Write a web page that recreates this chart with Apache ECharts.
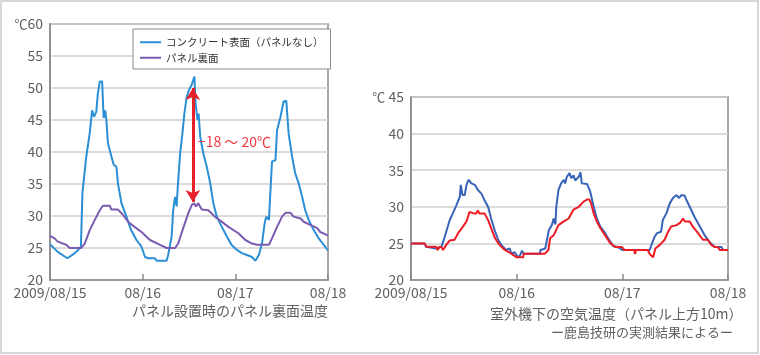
<!DOCTYPE html>
<html><head><meta charset="utf-8">
<script src="https://cdn.jsdelivr.net/npm/echarts@6/dist/echarts.min.js"></script>
<style>html,body{margin:0;padding:0;background:#fff}#c{width:760px;height:355px}</style>
</head><body><div id="c"></div>
<script>
const tickLabels = ['2009/08/15', '08/16', '08/17', '08/18'];
const legendNames = ['コンクリート表面（パネルなし）', 'パネル裏面'];
const annotationText = '−18 ～ 20℃';

// Left chart: concrete surface (no panel) – [hour, °C]
const concreteHours = [0,2,4.5,6,7.3,8,8.4,9.4,10.3,10.9,11.4,12,12.4,12.9,13.5,13.9,14.3,14.6,15,15.9,16.5,17.2,17.6,18.5,19.8,21,22.4,23.7,24.6,25.5,27.2,27.6,30.2,30.6,31.5,31.9,32.4,32.8,33.1,33.7,34.3,34.8,35.4,36,36.7,37.1,37.4,37.7,38.2,38.5,38.9,39.7,40.6,41.5,42.3,43.2,44.5,45.8,47,48.4,49.7,51,52.3,53.2,54.1,54.9,55.6,56,56.7,57.1,57.5,58.4,58.8,59.7,60.5,61.2,61.8,62.7,63.5,64.4,65.3,66.1,67,68.3,69.6,70.9,71.8,72];
const concreteTemps = [25.6,24.4,23.4,24.0,24.7,25.2,33.6,39.3,43,46.5,45.5,46.3,49.2,51,51,45.3,46.5,45,41.4,39.3,38,37.7,35.1,32,29.9,27.8,26.25,25.2,23.6,23.4,23.4,23,23,23.9,26.8,30.9,33,31.5,34.6,39.8,42.9,46,48.6,49.7,50.5,51.25,51.8,47.6,45,46,42.4,39.8,37.7,35.1,32,29.9,28.3,26.8,25.5,24.7,24.2,23.9,23.6,23,23.9,25.7,28.9,29.9,29.4,34,38.5,38.75,43.4,45.5,47.9,48,42.9,39.3,36.7,35.1,33,30.9,29.4,27.8,26.5,25.5,24.8,24.6];

// Left chart: panel back surface
const panelHours = [0,1.2,2,4.2,5.1,8.1,9,10.3,11.6,12.9,13.7,15.5,15.9,17.6,18.9,20.2,21.9,23.7,25.9,28.5,30.2,32.4,33.2,34.5,35.8,36.7,37.3,37.8,38.4,39.3,41,42.7,44.5,46.2,48.8,50.6,52.3,53.6,56.7,57.5,58.8,60.1,61,62.3,63.1,64.9,65.7,67.4,69.2,70,71.8,72];
const panelTemps = [26.9,26.5,26,25.5,25,25,25.7,27.8,29.4,30.9,31.6,31.6,31,31,30.2,29.1,28.3,27.5,26.25,25.5,25,25,25.7,28.1,30.4,31.7,32,31.5,32,31,30.9,29.9,29.1,28.3,27.3,26.25,25.7,25.5,25.5,26.5,28.3,29.9,30.5,30.5,29.9,29.6,29.1,28.6,28.1,27.5,27,26.9];

// Right chart: air temperature under outdoor unit (blue)
const airBlueHours = [0,3.1,3.4,5.7,6.9,7.3,8,8.8,9.5,10.3,11.1,11.3,11.7,12.2,12.6,13.1,13.7,14.5,15.2,16,16.7,17.5,18.2,19,19.8,20.5,21.6,22.4,22.8,23.5,24.3,24.8,25.2,25.6,29.3,29.4,30.5,31.3,32,32.4,32.8,33,33.5,34.1,34.7,35,35.4,36,36.4,36.9,37.3,38.1,38.5,38.8,40,40.7,41.5,42.2,43,44.1,45.3,46,47,48,54.2,54.6,55.3,55.9,56.8,57.2,58,58.8,59.5,60.3,60.9,61.4,62.2,62.5,63.3,64.4,65.6,66.7,67.8,69,70.5,70.9,72];
const airBlueTemps = [25,25,24.55,24.3,24.55,25.2,26.6,28.2,29.1,30.2,31.4,33,31.6,31.6,33,33.7,33.2,33,32.3,31.8,30.9,30,28.4,26.8,25.5,24.8,24.1,24.3,23.6,23.8,23.1,23.4,24.0,23.6,23.6,24.1,24.3,26.8,27.5,28.4,27.6,30,32.3,33.2,33.7,33.2,34.1,34.6,33.9,34.3,33.6,34.1,34.7,33.2,33.1,32.1,30,28.4,27.3,26.4,25.2,24.6,24.5,24.1,24.1,24.3,25.9,26.4,26.6,28.2,29.1,30.5,31.2,31.6,31.2,31.6,31.5,31,30,28.6,27.3,26.1,25.2,24.5,24.5,24.1,24.1];

// Right chart: air temperature (red)
const airRedHours = [0,3.1,3.5,5.7,6.1,6.4,6.9,7.3,8,8.8,9.9,10.7,11.8,12.6,13.3,13.6,14.2,14.8,15.2,15.5,16.7,17.5,18.2,19.1,20.1,21.3,22.8,24,25.5,25.6,30.4,31.2,31.6,32.4,33.5,34.7,35.8,36.9,38.1,39.2,40,40.5,40.9,41.5,42.2,43,44.1,45.3,46.4,47.9,48.5,50.7,50.9,51.1,53.8,54.2,55,55.5,56.5,57.6,58.4,59.1,59.4,60.3,61.1,61.8,62.2,63.3,64,65.2,66.3,67.4,68.2,69,69.7,70.1,72];
const airRedTemps = [25,25,24.55,24.55,24.1,24.5,24.5,24.1,24.8,25.4,25.5,26.4,27.3,28,29.3,29.5,29.1,29.1,29.5,29.1,29.1,28.2,27.1,25.7,24.8,24.1,23.6,23.1,23.1,23.6,23.6,24.1,25.7,26.1,27.5,28,28.4,29.6,30,30.7,31,31,30.5,29.1,28,27.1,26.1,25,24.5,24.5,24.1,24.1,23.55,24.1,24.1,23.55,23.1,24.3,24.8,25.5,26.6,27.3,27.1,27.5,27.8,28.4,28,28,27.3,26.4,25.5,25.5,24.8,24.5,24.5,24.1,24.1];

const annotationTop = [37, 50];
const annotationBottom = [37, 32.2];
const annotationLabelAt = [37, 41.6];

function pairs(xs, ys) { return xs.map((x, i) => [x, ys[i]]); }

const FONT = '"Noto Sans CJK JP", "Noto Sans", sans-serif';
const TXT = '#606060';
const FRAME = '#8a8a8a';
const GRIDC = '#cfcfcf';

function xAxis(gi) {
  return {
    type: 'value', gridIndex: gi, min: 0, max: 72, interval: 24,
    axisLine: { show: true, lineStyle: { color: FRAME, width: 1.5 } },
    axisTick: { show: true, inside: true, length: 6, lineStyle: { color: FRAME, width: 1.5 } },
    splitLine: { show: false },
    axisLabel: { color: TXT, fontSize: 14, fontFamily: FONT, margin: 6,
      formatter: v => tickLabels[Math.round(v / 24)] }
  };
}
function yAxis(gi, max, unitGap) {
  return {
    type: 'value', gridIndex: gi, min: 20, max: max, interval: 5,
    axisLine: { show: true, lineStyle: { color: FRAME, width: 1.5 } },
    axisTick: { show: false },
    splitLine: { show: true, lineStyle: { color: GRIDC, width: 1.5 } },
    axisLabel: { color: TXT, fontSize: 14, fontFamily: FONT, margin: 7,
      formatter: v => v === max ? '{u|℃}' + unitGap + v : String(v),
      rich: { u: { fontSize: 13, color: TXT, fontFamily: FONT } } }
  };
}

const chart = echarts.init(document.getElementById('c'), null, { renderer: 'canvas' });
chart.setOption({
  animation: false,
  backgroundColor: '#fff',
  textStyle: { fontFamily: FONT },
  graphic: [{ type: 'rect', shape: { x: 1, y: 1, width: 757, height: 352 },
    style: { fill: 'none', stroke: '#cccccc', lineWidth: 1.5 }, z: -1 }],
  title: [
    { text: 'パネル設置時のパネル裏面温度', right: 432, top: 304, padding: 0,
      textStyle: { color: TXT, fontSize: 14, fontWeight: 'normal', fontFamily: FONT } },
    { text: '室外機下の空気温度（パネル上方10m）', left: 490, top: 307, padding: 0,
      textStyle: { color: TXT, fontSize: 14, fontWeight: 'normal', fontFamily: FONT } },
    { text: 'ー鹿島技研の実測結果によるー', right: 27, top: 326, padding: 0,
      textStyle: { color: TXT, fontSize: 13, fontWeight: 'normal', fontFamily: FONT } }
  ],
  legend: {
    left: 133, top: 29, orient: 'vertical', data: legendNames,
    backgroundColor: '#fff', borderColor: '#8a8a8a', borderWidth: 1,
    padding: [8, 7, 6, 7], itemGap: 5, itemWidth: 21, itemHeight: 2, icon: 'rect',
    textStyle: { color: '#333', fontSize: 10.5, fontFamily: FONT }
  },
  grid: [
    { left: 50, top: 24, width: 278, height: 256, show: true, borderColor: FRAME, borderWidth: 1.5, backgroundColor: 'transparent' },
    { left: 411, top: 97, width: 317, height: 183, show: true, borderColor: FRAME, borderWidth: 1.5, backgroundColor: 'transparent' }
  ],
  xAxis: [xAxis(0), xAxis(1)],
  yAxis: [yAxis(0, 60, ''), yAxis(1, 45, ' ')],
  series: [
    { name: legendNames[0], type: 'line', xAxisIndex: 0, yAxisIndex: 0, data: pairs(concreteHours, concreteTemps),
      showSymbol: false, symbol: 'none', lineStyle: { color: '#2b8fd6', width: 2 }, itemStyle: { color: '#2b8fd6' },
      markLine: { silent: true, symbol: ['arrow', 'arrow'], symbolSize: [11, 12],
        lineStyle: { color: '#e8202a', width: 3, type: 'solid' }, label: { show: false },
        data: [[{ coord: annotationTop }, { coord: annotationBottom }]] },
      markPoint: { silent: true, symbol: 'circle', symbolSize: 0,
        data: [{ coord: annotationLabelAt, label: { show: true, position: 'right', distance: 5,
          formatter: annotationText, color: '#ef3a44', fontSize: 14, fontFamily: FONT } }] } },
    { name: legendNames[1], type: 'line', xAxisIndex: 0, yAxisIndex: 0, data: pairs(panelHours, panelTemps),
      showSymbol: false, symbol: 'none', lineStyle: { color: '#7a5bb0', width: 2 }, itemStyle: { color: '#7a5bb0' } },
    { name: 'air-blue', type: 'line', xAxisIndex: 1, yAxisIndex: 1, data: pairs(airBlueHours, airBlueTemps),
      showSymbol: false, symbol: 'none', lineStyle: { color: '#3763b8', width: 2 } },
    { name: 'air-red', type: 'line', xAxisIndex: 1, yAxisIndex: 1, data: pairs(airRedHours, airRedTemps),
      showSymbol: false, symbol: 'none', lineStyle: { color: '#ec1c24', width: 2 } }
  ]
});
</script></body></html>
